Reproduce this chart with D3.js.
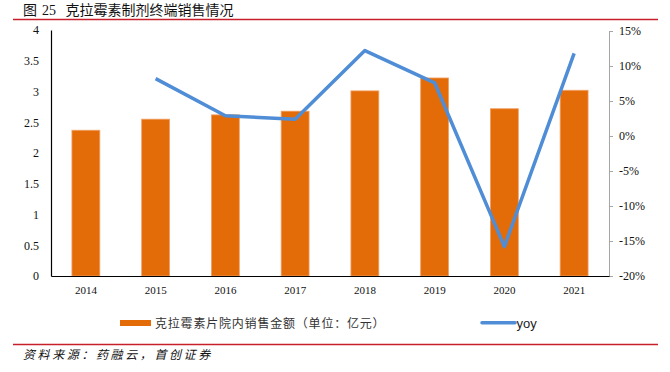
<!DOCTYPE html>
<html><head><meta charset="utf-8">
<script src="https://cdn.jsdelivr.net/npm/d3@7"></script>
<style>body{margin:0;background:#fff}svg{display:block}</style>
</head><body><svg id="c" width="670" height="372"></svg>
<script>
const years = ["2014","2015","2016","2017","2018","2019","2020","2021"];
const sales = [2.37, 2.55, 2.62, 2.68, 3.01, 3.22, 2.72, 3.02];
const yoy = [null, 8.2, 2.9, 2.4, 12.2, 7.6, -15.8, 11.8];
const leftTicks = [0, 0.5, 1, 1.5, 2, 2.5, 3, 3.5, 4];
const rightTicks = [-20, -15, -10, -5, 0, 5, 10, 15];
const titleText = "克拉霉素制剂终端销售情况";
const legendBar = "克拉霉素片院内销售金额（单位：亿元）";
const legendLine = "yoy";
const sourceText = "资料来源：药融云，首创证券";

const svg = d3.select("#c");
const serif = "'Liberation Serif','Times New Roman',serif";
const cjk = "'Noto Sans CJK SC',sans-serif";
const L = 51, R = 609, T = 30, B = 276;

const x = d3.scaleBand().domain(years).range([L, R]).paddingInner(0.6).paddingOuter(0.3);
const y = d3.scaleLinear().domain([0, 4]).range([B, T]);
const y2 = d3.scaleLinear().domain([-20, 15]).range([B, 31]);

// title
svg.append("text").attr("x", 23).attr("y", 15).attr("font-family", cjk).attr("font-size", 14).attr("fill", "#111").text("图");
svg.append("text").attr("x", 42).attr("y", 15).attr("font-family", serif).attr("font-size", 14).attr("fill", "#111").text("25");
svg.append("text").attr("x", 65.5).attr("y", 15).attr("font-family", cjk).attr("font-size", 14).attr("fill", "#111").text(titleText);
svg.append("line").attr("x1", 13).attr("x2", 658).attr("y1", 19.5).attr("y2", 19.5).attr("stroke", "#C8202A").attr("stroke-width", 1.5);

// bars
svg.append("g").selectAll("rect").data(years).join("rect")
  .attr("x", d => x(d)).attr("width", x.bandwidth())
  .attr("y", (d, i) => y(sales[i])).attr("height", (d, i) => B - y(sales[i]))
  .attr("fill", "#E36C09").attr("stroke", "#F2A066").attr("stroke-width", 0.8);

// left axis
const gl = svg.append("g").attr("transform", `translate(${L},0)`)
  .call(d3.axisLeft(y).tickValues(leftTicks).tickSize(0).tickPadding(12).tickFormat(d3.format("")));
gl.select(".domain").attr("stroke", "#000").attr("stroke-width", 1.2);
gl.selectAll("text").attr("font-family", serif).attr("font-size", 12).attr("fill", "#111");

// right axis
const gr = svg.append("g").attr("transform", `translate(${R},0)`)
  .call(d3.axisRight(y2).tickValues(rightTicks).tickSize(4).tickSizeOuter(0).tickPadding(6).tickFormat(d => d + "%"));
gr.select(".domain").attr("stroke", "#A6A6A6");
gr.selectAll(".tick line").attr("stroke", "#A6A6A6");
gr.selectAll("text").attr("font-family", serif).attr("font-size", 12).attr("fill", "#111");

// bottom axis
const gb = svg.append("g").attr("transform", `translate(0,${B})`)
  .call(d3.axisBottom(x).tickSize(0).tickSizeOuter(0).tickPadding(10));
gb.select(".domain").attr("stroke", "#000").attr("stroke-width", 1.2);
gb.selectAll("text").attr("font-family", serif).attr("font-size", 11).attr("fill", "#111");

// yoy line
const line = d3.line().defined(d => d[1] !== null)
  .x(d => x(d[0]) + x.bandwidth() / 2).y(d => y2(d[1]));
svg.append("path").datum(years.map((d, i) => [d, yoy[i]]))
  .attr("d", line).attr("fill", "none").attr("stroke", "#4F8DD6")
  .attr("stroke-width", 3.5).attr("stroke-linejoin", "round");

// legend
svg.append("rect").attr("x", 120).attr("y", 320).attr("width", 31).attr("height", 6).attr("fill", "#E36C09");
svg.append("text").attr("x", 155).attr("y", 327.5).attr("font-family", cjk).attr("font-size", 12).attr("letter-spacing", 0.8).attr("fill", "#333").text(legendBar);
svg.append("line").attr("x1", 482).attr("x2", 515).attr("y1", 322.8).attr("y2", 322.8).attr("stroke", "#4F8DD6").attr("stroke-width", 3.5).attr("stroke-linecap", "round");
svg.append("text").attr("x", 516.5).attr("y", 327.5).attr("font-family", "'Liberation Sans',Arial,sans-serif").attr("font-size", 13).attr("fill", "#222").text(legendLine);

// footer
svg.append("line").attr("x1", 13).attr("x2", 658).attr("y1", 344.5).attr("y2", 344.5).attr("stroke", "#C8202A").attr("stroke-width", 1.5);
svg.append("text").attr("x", 23).attr("y", 358.5).attr("font-family", cjk).attr("font-size", 12).attr("letter-spacing", 2.6).attr("font-style", "italic").attr("fill", "#111").text(sourceText);
</script></body></html>
